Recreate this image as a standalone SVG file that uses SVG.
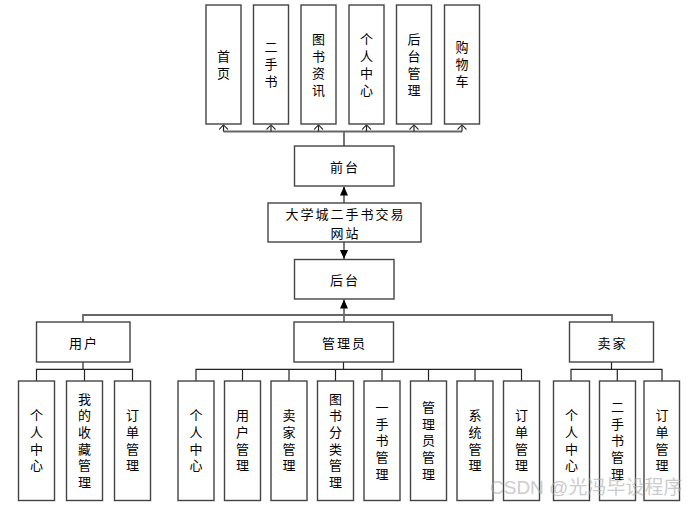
<svg xmlns="http://www.w3.org/2000/svg" width="697" height="506" viewBox="0 0 697 506">
<style>
.b{fill:#fff;stroke:#444;stroke-width:1.4}
.t{font-family:"Noto Sans CJK SC","Liberation Sans",sans-serif;font-size:13px;fill:#000;text-anchor:middle;dominant-baseline:central}
.h{letter-spacing:2px}
.v{font-family:"Noto Sans CJK SC","Liberation Sans",sans-serif;font-size:13px;fill:#000;text-anchor:middle;writing-mode:vertical-rl;text-orientation:upright}
.vt{letter-spacing:4px}
.vb{letter-spacing:3.7px}
.c{fill:none;stroke:#222;stroke-width:1.2}
.g{fill:none;stroke:#666;stroke-width:1.8}
.wm{font-family:"Liberation Sans","Noto Sans CJK SC",sans-serif;font-size:19px;fill:#aaa;opacity:0.6}
</style>
<defs>
<marker id="fa" viewBox="0 0 10 10" preserveAspectRatio="none" refX="10" refY="5" markerWidth="9" markerHeight="8" orient="auto" markerUnits="userSpaceOnUse"><path d="M0,0 L10,5 L0,10 Z" fill="#000"/></marker>
<marker id="oa" viewBox="0 0 5 10" preserveAspectRatio="none" refX="5" refY="5" markerWidth="5" markerHeight="10" orient="auto" markerUnits="userSpaceOnUse"><path d="M0,0.5 L4.6,5 L0,9.5" fill="none" stroke="#333" stroke-width="1.1"/></marker>
</defs>
<g id="connectors">
<path class="g" d="M344,146 V131.5 M223.5,131.5 H462"/>
<path class="c" marker-end="url(#oa)" d="M223.5,131.5 V124.5"/>
<path class="c" marker-end="url(#oa)" d="M271,131.5 V124.5"/>
<path class="c" marker-end="url(#oa)" d="M318.5,131.5 V124.5"/>
<path class="c" marker-end="url(#oa)" d="M366.5,131.5 V124.5"/>
<path class="c" marker-end="url(#oa)" d="M414,131.5 V124.5"/>
<path class="c" marker-end="url(#oa)" d="M462,131.5 V124.5"/>
<path class="c" marker-end="url(#fa)" d="M344,203 V186.5"/>
<path class="c" marker-end="url(#fa)" d="M344,242 V259"/>
<path class="c" marker-end="url(#fa)" d="M344,322 V299.5"/>
<path class="g" d="M83,322 V315 H612 V322"/>
<path class="c" d="M83,362 V369.3 M36.5,381 V369.3 H132.5 V381 M84.5,369.3 V381"/>
<path class="c" d="M343.5,362 V369.3 M196,381 V369.3 H521.5 V381 M242.5,369.3 V381 M289,369.3 V381 M335.5,369.3 V381 M382,369.3 V381 M428.5,369.3 V381 M475,369.3 V381"/>
<path class="c" d="M611.5,362 V369.3 M571,381 V369.3 H662 V381 M617.3,369.3 V381"/>
</g>
<g id="n_shouye"><rect class="b" x="206" y="5" width="35" height="119"/><text class="v vt" x="223.5" y="66.5">首页</text></g>
<g id="n_ershoushu"><rect class="b" x="253.5" y="5" width="35" height="119"/><text class="v vt" x="271" y="66.5">二手书</text></g>
<g id="n_tushuzixun"><rect class="b" x="301" y="5" width="35" height="119"/><text class="v vt" x="318.5" y="66.5">图书资讯</text></g>
<g id="n_gerenzhongxin_top"><rect class="b" x="349" y="5" width="35" height="119"/><text class="v vt" x="366.5" y="66.5">个人中心</text></g>
<g id="n_houtaiguanli"><rect class="b" x="396.5" y="5" width="35" height="119"/><text class="v vt" x="414" y="66.5">后台管理</text></g>
<g id="n_gouwuche"><rect class="b" x="444.5" y="5" width="35" height="119"/><text class="v vt" x="462" y="66.5">购物车</text></g>
<g id="n_qiantai"><rect class="b" x="294.5" y="146" width="99.5" height="40"/><text class="t h" x="345" y="166">前台</text></g>
<g id="n_site"><rect class="b" x="268" y="203" width="153" height="39"/><text class="t h" x="345.5" y="213.4">大学城二手书交易</text><text class="t h" x="345.5" y="232.4">网站</text></g>
<g id="n_houtai"><rect class="b" x="294.5" y="259.5" width="99.5" height="39.5"/><text class="t h" x="345" y="279">后台</text></g>
<g id="n_yonghu"><rect class="b" x="36.5" y="322" width="93.5" height="40"/><text class="t h" x="84" y="342">用户</text></g>
<g id="n_guanliyuan"><rect class="b" x="294" y="322" width="99.5" height="40"/><text class="t h" x="344.5" y="342">管理员</text></g>
<g id="n_maijia"><rect class="b" x="569.5" y="322" width="84" height="40"/><text class="t h" x="612.5" y="342">卖家</text></g>
<g id="u1"><rect class="b" x="18.5" y="381" width="36" height="119.5"/><text class="v vb" x="36.5" y="442.3">个人中心</text></g>
<g id="u2"><rect class="b" x="66.5" y="381" width="36" height="119.5"/><text class="v vb" x="84.5" y="442.3">我的收藏管理</text></g>
<g id="u3"><rect class="b" x="114.5" y="381" width="36" height="119.5"/><text class="v vb" x="132.5" y="442.3">订单管理</text></g>
<g id="a1"><rect class="b" x="178" y="381" width="36" height="119.5"/><text class="v vb" x="196" y="442.3">个人中心</text></g>
<g id="a2"><rect class="b" x="224.5" y="381" width="36" height="119.5"/><text class="v vb" x="242.5" y="442.3">用户管理</text></g>
<g id="a3"><rect class="b" x="271" y="381" width="36" height="119.5"/><text class="v vb" x="289" y="442.3">卖家管理</text></g>
<g id="a4"><rect class="b" x="317.5" y="381" width="36" height="119.5"/><text class="v vb" x="335.5" y="442.3">图书分类管理</text></g>
<g id="a5"><rect class="b" x="364" y="381" width="36" height="119.5"/><text class="v vb" x="382" y="442.3">一手书管理</text></g>
<g id="a6"><rect class="b" x="410.5" y="381" width="36" height="119.5"/><text class="v vb" x="428.5" y="442.3">管理员管理</text></g>
<g id="a7"><rect class="b" x="457" y="381" width="36" height="119.5"/><text class="v vb" x="475" y="442.3">系统管理</text></g>
<g id="a8"><rect class="b" x="503.5" y="381" width="36" height="119.5"/><text class="v vb" x="521.5" y="442.3">订单管理</text></g>
<g id="s1"><rect class="b" x="553.5" y="381" width="36" height="119.5"/><text class="v vb" x="571.5" y="442.3">个人中心</text></g>
<g id="s2"><rect class="b" x="599.5" y="381" width="36" height="119.5"/><text class="v vb" x="617.5" y="442.3">二手书管理</text></g>
<g id="s3"><rect class="b" x="644" y="381" width="35.5" height="119.5"/><text class="v vb" x="662" y="442.3">订单管理</text></g>
<text class="wm" x="490" y="494">CSDN @光冯毕设程序</text>
</svg>
